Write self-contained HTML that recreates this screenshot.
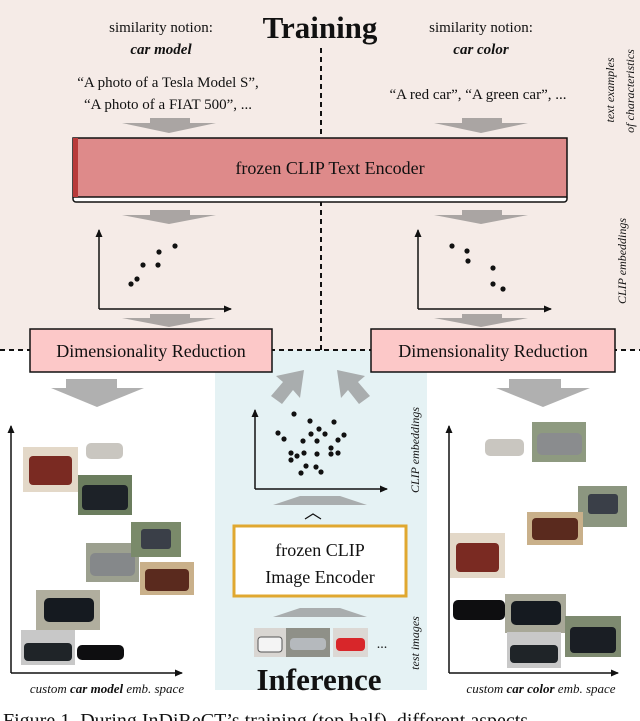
<!DOCTYPE html>
<html><head><meta charset="utf-8"><style>
html,body{margin:0;padding:0;background:#fff;}
svg{display:block;}
text{font-family:"Liberation Serif",serif;fill:#111;}
</style></head><body>
<svg width="640" height="721" viewBox="0 0 640 721" xmlns="http://www.w3.org/2000/svg">
<defs>
<marker id="ah" markerWidth="8" markerHeight="8" refX="7" refY="4" orient="auto" markerUnits="userSpaceOnUse"><path d="M0,0.5 L8,4 L0,7.5 Z" fill="#111"/></marker>
</defs>
<!-- backgrounds -->
<rect x="0" y="0" width="640" height="350" fill="#f5ebe7"/>
<rect x="215" y="350" width="212" height="340" fill="#e5f2f4"/>

<!-- dashed lines -->
<line x1="321" y1="48" x2="321" y2="350" stroke="#111" stroke-width="2" stroke-dasharray="5,4"/>
<line x1="0" y1="350" x2="640" y2="350" stroke="#111" stroke-width="2" stroke-dasharray="5,4"/>

<!-- titles -->
<text x="320" y="38" font-size="31" font-weight="bold" text-anchor="middle">Training</text>
<text x="161" y="32" font-size="15" text-anchor="middle">similarity notion:</text>
<text x="161" y="54" font-size="15" font-weight="bold" font-style="italic" text-anchor="middle">car model</text>
<text x="481" y="32" font-size="15" text-anchor="middle">similarity notion:</text>
<text x="481" y="54" font-size="15" font-weight="bold" font-style="italic" text-anchor="middle">car color</text>
<text x="168" y="87" font-size="15" text-anchor="middle">“A photo of a Tesla Model S”,</text>
<text x="168" y="109" font-size="15" text-anchor="middle">“A photo of a FIAT 500”, ...</text>
<text x="478" y="99" font-size="15" text-anchor="middle">“A red car”, “A green car”, ...</text>

<!-- side labels -->
<text transform="translate(614,90) rotate(-90)" font-size="12" font-style="italic" text-anchor="middle">text examples</text>
<text transform="translate(634,91) rotate(-90)" font-size="12" font-style="italic" text-anchor="middle">of characteristics</text>
<text transform="translate(626,261) rotate(-90)" font-size="12" font-style="italic" text-anchor="middle">CLIP embeddings</text>
<text transform="translate(419,450) rotate(-90)" font-size="12" font-style="italic" text-anchor="middle">CLIP embeddings</text>
<text transform="translate(419,643) rotate(-90)" font-size="12" font-style="italic" text-anchor="middle">test images</text>

<!-- gray arrows down (top) -->
<g fill="#aaa5a3">
<polygon points="150,118 190,118 190,123 216,123 169,133 122,123 150,123"/>
<polygon points="462,118 502,118 502,123 528,123 481,133 434,123 462,123"/>
<polygon points="150,210 190,210 190,215 216,215 169,224 122,215 150,215"/>
<polygon points="462,210 502,210 502,215 528,215 481,224 434,215 462,215"/>
<polygon points="150,314 190,314 190,318 216,318 169,327 122,318 150,318"/>
<polygon points="462,314 502,314 502,318 528,318 481,327 434,318 462,318"/>
</g>

<!-- text encoder -->
<rect x="73" y="195" width="494" height="7" rx="3" fill="#fff" stroke="#111" stroke-width="1.5"/>
<rect x="73" y="138" width="494" height="59" fill="#de8a8a" stroke="#111" stroke-width="1.5"/>
<rect x="73" y="138" width="5" height="59" fill="#b83a3a"/>
<text x="330" y="174" font-size="18" text-anchor="middle">frozen CLIP Text Encoder</text>

<!-- top plots -->
<g stroke="#111" stroke-width="1.5" fill="none">
<path d="M99,309 L99,230" marker-end="url(#ah)"/>
<path d="M99,309 L231,309" marker-end="url(#ah)"/>
<path d="M418,309 L418,230" marker-end="url(#ah)"/>
<path d="M418,309 L551,309" marker-end="url(#ah)"/>
</g>
<g fill="#111">
<circle cx="131" cy="284" r="2.6"/><circle cx="137" cy="279" r="2.6"/><circle cx="143" cy="265" r="2.6"/><circle cx="158" cy="265" r="2.6"/><circle cx="159" cy="252" r="2.6"/><circle cx="175" cy="246" r="2.6"/>
<circle cx="452" cy="246" r="2.6"/><circle cx="467" cy="251" r="2.6"/><circle cx="468" cy="261" r="2.6"/><circle cx="493" cy="268" r="2.6"/><circle cx="493" cy="284" r="2.6"/><circle cx="503" cy="289" r="2.6"/>
</g>

<!-- dim reduction boxes -->
<rect x="30" y="329" width="242" height="43" fill="#fcc8c8" stroke="#111" stroke-width="1.5"/>
<text x="151" y="357" font-size="18" text-anchor="middle">Dimensionality Reduction</text>
<rect x="371" y="329" width="244" height="43" fill="#fcc8c8" stroke="#111" stroke-width="1.5"/>
<text x="493" y="357" font-size="18" text-anchor="middle">Dimensionality Reduction</text>

<!-- big down arrows -->
<g fill="#b0b0b0">
<polygon points="66,379 117,379 117,388 144,388 97,407 51,388 66,388"/>
<polygon points="509,379 561,379 561,388 590,388 543,407 496,388 509,388"/>
</g>
<!-- up diagonal arrows -->
<g fill="#a9adae">
<polygon points="304,370 300,398 293,390 282,404 271,396 283,382 276,376"/>
<polygon points="337,370 365,376 358,382 370,396 359,404 348,390 341,398"/>
<polygon points="273,505 300,496 340,496 367,505"/>
<polygon points="273,617 300,608 340,608 367,617"/>
</g>

<!-- inference scatter -->
<g stroke="#111" stroke-width="1.5" fill="none">
<path d="M255,489 L255,410" marker-end="url(#ah)"/>
<path d="M255,489 L387,489" marker-end="url(#ah)"/>
</g>
<g fill="#111">
<circle cx="294" cy="414" r="2.6"/><circle cx="310" cy="421" r="2.6"/><circle cx="334" cy="422" r="2.6"/><circle cx="278" cy="433" r="2.6"/><circle cx="284" cy="439" r="2.6"/><circle cx="311" cy="434" r="2.6"/><circle cx="319" cy="429" r="2.6"/><circle cx="325" cy="434" r="2.6"/><circle cx="344" cy="435" r="2.6"/><circle cx="303" cy="441" r="2.6"/><circle cx="317" cy="441" r="2.6"/><circle cx="338" cy="440" r="2.6"/><circle cx="291" cy="453" r="2.6"/><circle cx="297" cy="456" r="2.6"/><circle cx="304" cy="453" r="2.6"/><circle cx="317" cy="454" r="2.6"/><circle cx="331" cy="448" r="2.6"/><circle cx="331" cy="454" r="2.6"/><circle cx="338" cy="453" r="2.6"/><circle cx="291" cy="460" r="2.6"/><circle cx="306" cy="466" r="2.6"/><circle cx="316" cy="467" r="2.6"/><circle cx="301" cy="473" r="2.6"/><circle cx="321" cy="472" r="2.6"/>
</g>
<path d="M305,519 L313,514 L321,519" stroke="#111" stroke-width="1.2" fill="none"/>

<!-- image encoder -->
<rect x="234" y="526" width="172" height="70" fill="#fff" stroke="#e0a830" stroke-width="3"/>
<text x="320" y="556" font-size="18" text-anchor="middle">frozen CLIP</text>
<text x="320" y="583" font-size="18" text-anchor="middle">Image Encoder</text>

<!-- test images -->
<rect x="254" y="628" width="32" height="29" fill="#d9d6d2"/><rect x="258" y="637" width="24" height="15" rx="3" fill="#f4f4f4" stroke="#555"/>
<rect x="286" y="628" width="44" height="29" fill="#8f9088"/><rect x="290" y="638" width="36" height="12" rx="4" fill="#b5b9bd"/>
<rect x="333" y="628" width="35" height="29" fill="#dcd8d4"/><rect x="336" y="638" width="29" height="13" rx="4" fill="#d8262a"/>
<text x="382" y="648" font-size="14" text-anchor="middle">...</text>

<text x="319" y="690" font-size="31" font-weight="bold" text-anchor="middle">Inference</text>

<!-- bottom axes -->
<g stroke="#111" stroke-width="1.5" fill="none">
<path d="M11,673 L11,426" marker-end="url(#ah)"/>
<path d="M11,673 L182,673" marker-end="url(#ah)"/>
<path d="M449,673 L449,426" marker-end="url(#ah)"/>
<path d="M449,673 L618,673" marker-end="url(#ah)"/>
</g>

<!-- left car images -->
<g>
<rect x="23" y="447" width="55" height="45" fill="#e3d8c8"/><rect x="29" y="456" width="43" height="29" rx="4" fill="#7a2a22"/>
<rect x="83" y="440" width="42" height="21" fill="#fff"/><rect x="86" y="443" width="37" height="16" rx="5" fill="#c9c6c0"/>
<rect x="78" y="475" width="54" height="40" fill="#6b7d5e"/><rect x="82" y="485" width="46" height="25" rx="4" fill="#1d2228"/>
<rect x="86" y="543" width="53" height="39" fill="#9ca08f"/><rect x="90" y="553" width="45" height="23" rx="5" fill="#85888a"/>
<rect x="131" y="522" width="50" height="35" fill="#7a8a6a"/><rect x="141" y="529" width="30" height="20" rx="3" fill="#3a3f48"/>
<rect x="140" y="562" width="54" height="33" fill="#c9b08a"/><rect x="145" y="569" width="44" height="22" rx="4" fill="#5a2a1e"/>
<rect x="36" y="590" width="64" height="40" fill="#b0ae9e"/><rect x="44" y="598" width="50" height="24" rx="5" fill="#151a20"/>
<rect x="21" y="630" width="54" height="35" fill="#c8c8c8"/><rect x="24" y="643" width="48" height="18" rx="4" fill="#1f2428"/>
<rect x="75" y="640" width="50" height="23" fill="#fff"/><rect x="77" y="645" width="47" height="15" rx="5" fill="#0e0e10"/>
</g>
<!-- right car images -->
<g>
<rect x="483" y="436" width="42" height="22" fill="#fff"/><rect x="485" y="439" width="39" height="17" rx="5" fill="#c9c6c0"/>
<rect x="532" y="422" width="54" height="40" fill="#8e9a80"/><rect x="537" y="433" width="45" height="22" rx="5" fill="#8a8c8e"/>
<rect x="578" y="486" width="49" height="41" fill="#8c9680"/><rect x="588" y="494" width="30" height="20" rx="3" fill="#3a3f48"/>
<rect x="527" y="512" width="56" height="33" fill="#c9b08a"/><rect x="532" y="518" width="46" height="22" rx="4" fill="#5a2a1e"/>
<rect x="450" y="533" width="55" height="45" fill="#e3d8c8"/><rect x="456" y="543" width="43" height="29" rx="4" fill="#7a2a22"/>
<rect x="453" y="600" width="52" height="20" rx="5" fill="#0e0e10"/>
<rect x="505" y="594" width="61" height="39" fill="#a8a898"/><rect x="511" y="601" width="50" height="24" rx="5" fill="#151a20"/>
<rect x="507" y="632" width="54" height="36" fill="#c8c8c8"/><rect x="510" y="645" width="48" height="18" rx="4" fill="#1f2428"/>
<rect x="565" y="616" width="56" height="41" fill="#7e8a70"/><rect x="570" y="627" width="46" height="26" rx="4" fill="#1a1e24"/>
</g>

<!-- captions -->
<text x="107" y="693" font-size="13" text-anchor="middle"><tspan font-style="italic">custom </tspan><tspan font-weight="bold" font-style="italic">car model</tspan><tspan font-style="italic"> emb. space</tspan></text>
<text x="541" y="693" font-size="13" text-anchor="middle"><tspan font-style="italic">custom </tspan><tspan font-weight="bold" font-style="italic">car color</tspan><tspan font-style="italic"> emb. space</tspan></text>
<text x="3" y="727" font-size="20">Figure 1.  During InDiReCT’s training (top half), different aspects</text>
</svg>
</body></html>
